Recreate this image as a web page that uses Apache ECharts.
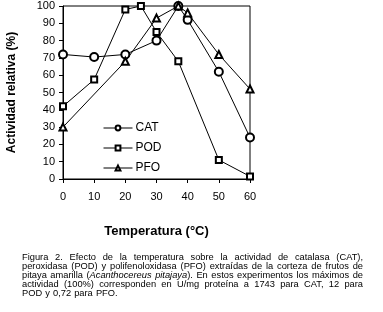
<!DOCTYPE html>
<html><head><meta charset="utf-8">
<script src="https://cdn.jsdelivr.net/npm/echarts@6/dist/echarts.min.js"></script>
<style>html,body{margin:0;padding:0;background:#fff}#c{width:383px;height:312px}</style>
</head><body><div id="c"></div>
<script>
const xTicks = [0, 10, 20, 30, 40, 50, 60];
const catX = [0, 10, 20, 30, 37, 40, 50, 60];
const catY = [72, 70.5, 72, 80, 100, 92, 62, 24];
const podX = [0, 10, 20, 25, 30, 37, 50, 60];
const podY = [42, 57.5, 98, 100, 85, 68, 11, 1.5];
const pfoX = [0, 20, 30, 37, 40, 50, 60];
const pfoY = [30, 68, 93, 100, 96, 72, 52];
const seriesNames = ["CAT", "POD", "PFO"];
const yTitle = "Actividad relativa (%)";
const xTitle = "Temperatura (°C)";
const captionLines = [
  "Figura 2. Efecto de la temperatura sobre la actividad de catalasa (CAT),",
  "peroxidasa (POD) y polifenoloxidasa (PFO) extraídas de la corteza de frutos de",
  "pitaya amarilla (_Acanthocereus_ _pitajaya_). En estos experimentos los máximos de",
  "actividad (100%) corresponden en U/mg proteína a 1743 para CAT, 12 para",
  "POD y 0,72 para PFO."
];

function pairs(xs, ys) { return xs.map((x, i) => [x, ys[i]]); }

const FF = "'Liberation Sans', Arial, sans-serif";
const capFont = 9.3;
const capLeft = 22, capRight = 363, capTop = 257.5, capStep = 9;
const ctx = document.createElement('canvas').getContext('2d');
function measure(t, it) { ctx.font = (it ? 'italic ' : '') + capFont + "px " + FF; return ctx.measureText(t).width; }

const graphics = [];
captionLines.forEach((line, li) => {
  const words = line.split(' ').map(w => {
    const segs = []; let it = false;
    w.split('_').forEach((s, k) => { if (k > 0) it = !it; if (s) segs.push({ t: s, it: it }); });
    segs.forEach(s => s.w = measure(s.t, s.it));
    return { segs: segs, w: segs.reduce((a, s) => a + s.w, 0) };
  });
  const total = words.reduce((a, w) => a + w.w, 0);
  const last = li === captionLines.length - 1;
  const gap = last ? measure(' ', false) * 1.2 : (capRight - capLeft - total) / (words.length - 1);
  let x = capLeft;
  const y = capTop + li * capStep;
  words.forEach(w => {
    let sx = x;
    w.segs.forEach(s => {
      graphics.push({ type: 'text', x: sx, y: y, silent: true,
        style: { text: s.t, x: 0, y: 0, fontSize: capFont, fontFamily: FF, fontStyle: s.it ? 'italic' : 'normal',
                 fill: '#000', verticalAlign: 'middle', align: 'left' } });
      sx += s.w;
    });
    x += w.w + gap;
  });
});

const chart = echarts.init(document.getElementById('c'), null, { renderer: 'canvas' });
const lineStyle = { color: '#000', width: 1 };
const itemStyle = { color: '#000', borderColor: '#000', borderWidth: 1 };
chart.setOption({
  animation: false,
  backgroundColor: '#fff',
  grid: { left: 63, right: 133, top: 6, bottom: 133, show: true, borderColor: '#000', borderWidth: 1, backgroundColor: 'transparent' },
  legend: {
    orient: 'vertical', left: 98, top: 117, itemWidth: 29, itemHeight: 6, itemGap: 8,
    data: seriesNames,
    lineStyle: { width: 1 },
    textStyle: { fontSize: 12, fontFamily: FF, color: '#000', padding: [0, 0, 0, -2] }
  },
  xAxis: {
    type: 'value', min: 0, max: 60, interval: 10,
    name: xTitle, nameLocation: 'middle', nameGap: 46,
    nameTextStyle: { fontSize: 13, fontWeight: 'bold', fontFamily: FF, color: '#000' },
    axisLine: { show: true, lineStyle: { color: '#000', width: 1 } },
    axisTick: { show: true, length: 4, lineStyle: { color: '#000' } },
    axisLabel: { fontSize: 11, fontFamily: FF, color: '#000', margin: 12,
                 formatter: v => xTicks.indexOf(v) >= 0 ? String(v) : '' },
    splitLine: { show: false }
  },
  yAxis: {
    type: 'value', min: 0, max: 100, interval: 10,
    name: yTitle, nameLocation: 'middle', nameGap: 45,
    nameTextStyle: { fontSize: 12, fontWeight: 'bold', fontFamily: FF, color: '#000' },
    axisLine: { show: true, lineStyle: { color: '#000', width: 1 } },
    axisTick: { show: true, length: 4, lineStyle: { color: '#000' } },
    axisLabel: { fontSize: 11, fontFamily: FF, color: '#000', margin: 8 },
    splitLine: { show: false }
  },
  series: [
    { name: seriesNames[0], type: 'line', data: pairs(catX, catY), symbol: 'emptyCircle', symbolSize: 8, lineStyle, itemStyle, z: 3 },
    { name: seriesNames[1], type: 'line', data: pairs(podX, podY), symbol: 'emptyRect', symbolSize: 6, lineStyle, itemStyle, z: 3 },
    { name: seriesNames[2], type: 'line', data: pairs(pfoX, pfoY), symbol: 'emptyTriangle', symbolSize: 7, lineStyle, itemStyle, z: 3 }
  ],
  graphic: graphics
});
</script></body></html>
